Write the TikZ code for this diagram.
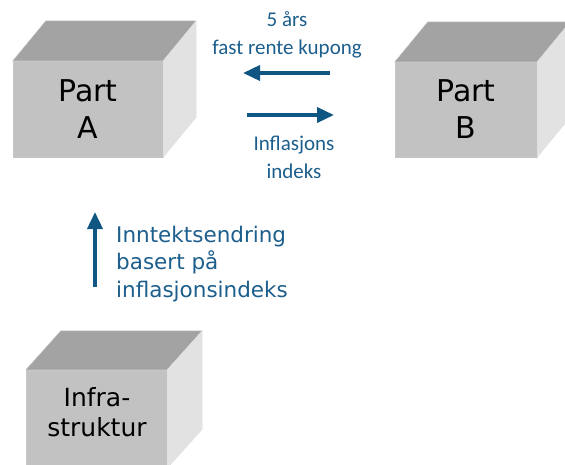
\documentclass[tikz,border=0pt]{standalone}
\usepackage{fontspec}
\usepackage{tikz}
\usetikzlibrary{positioning,arrows.meta,calc}
\newfontfamily\boxfont{DejaVu Sans}
\newfontfamily\notefont{Carlito}
\definecolor{cubefront}{RGB}{194,194,194}
\definecolor{cubetop}{RGB}{163,163,163}
\definecolor{cubeside}{RGB}{226,226,226}
\definecolor{flowblue}{RGB}{16,86,130}
\definecolor{noteblue}{RGB}{28,94,140}
% depth of the cube faces, in px
\newcommand{\cubefaces}[3]{%
\fill[cubetop,draw=gray!45,thin] (#1.north west) -- ([shift={(#2,#3)}]#1.north west)
  -- ([shift={(#2,#3)}]#1.north east) -- (#1.north east) -- cycle;
\fill[cubeside,draw=gray!25,thin] (#1.north east) -- ([shift={(#2,#3)}]#1.north east)
  -- ([shift={(#2,#3)}]#1.south east) -- (#1.south east) -- cycle;}
\begin{document}
\begin{tikzpicture}[x=1pt,y=-1pt,
  front/.style={fill=cubefront,draw=gray!45,thin,inner sep=0pt,align=center,
    font=\boxfont\fontsize{30}{37}\selectfont},
  flow/.style={draw=flowblue,line width=3.6pt,-{Triangle[length=17pt,width=15pt]}},
  note/.style={text=noteblue,align=center,inner sep=0pt,
    font=\notefont\fontsize{21}{28}\selectfont}]
\clip (0,0) rectangle (565,464);
% Part A
\node[front,minimum width=150pt,minimum height=96pt] (partA) at (88,109) {Part\\A};
\cubefaces{partA}{33}{-40}
% Part B
\node[front,minimum width=142pt,minimum height=95pt] (partB) at (466,109.5) {Part\\B};
\cubefaces{partB}{33}{-40}
% Infrastruktur
\node[front,minimum width=141pt,minimum height=98pt,
  font=\boxfont\fontsize{25}{30}\selectfont] (infra) at (96.5,419) {};
\cubefaces{infra}{35}{-39}
\node[align=center,inner sep=0pt,font=\boxfont\fontsize{25}{30}\selectfont]
  (infratxt) at (97,412) {Infra-\\struktur};
% payments between A and B
\coordinate (kupStart) at (330,73);
\coordinate (kupEnd) at (243,73);
\coordinate (infStart) at (247,115);
\coordinate (infEnd) at (334,115);
\draw[flow] (kupStart) -- (kupEnd);
\draw[flow] (infStart) -- (infEnd);
\node[note] (kupong) at (287,35) {5 års\\fast rente kupong};
\node[note] (indeks) at (294,157) {Inflasjons\\indeks};
% income from infrastructure
\coordinate (incStart) at (95,287);
\coordinate (incEnd) at (95,212);
\draw[flow] (incStart) -- (incEnd);
\node[text=noteblue,align=left,anchor=west,inner sep=0pt,
  font=\boxfont\fontsize{21.5}{27.5}\selectfont] (inntekt) at (116,264)
  {Inntektsendring\\basert på\\inflasjonsindeks};
\end{tikzpicture}
\end{document}
